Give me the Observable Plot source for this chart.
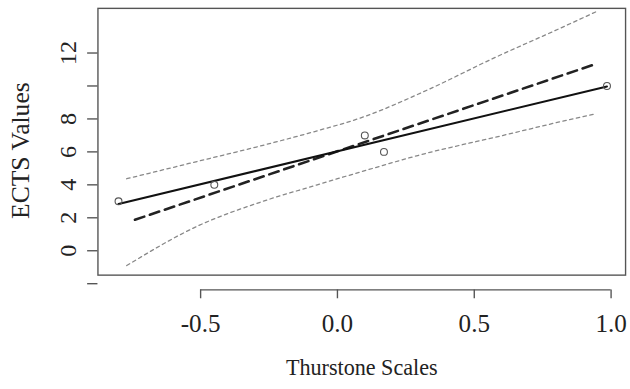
<!DOCTYPE html>
<html>
<head>
<meta charset="utf-8">
<script src="https://cdn.jsdelivr.net/npm/d3@7"></script>
<script src="https://cdn.jsdelivr.net/npm/@observablehq/plot@0.6"></script>
<style>
  html, body { margin: 0; padding: 0; background: #fff; overflow: hidden; }
  #chart svg { display: block; }
</style>
</head>
<body>
<div id="chart"></div>
<script>
// Observed points
const thurstone = [-0.80, -0.45, 0.10, 0.17, 0.985];
const ects = [3, 4, 7, 6, 10];

// Solid fitted line (endpoints)
const fitX = [-0.80, 0.985];
const fitY = [2.84, 9.97];

// Thick dashed line
const dashX = [-0.74, 0.938];
const dashY = [1.88, 11.30];

// Upper dotted band
const upperX = [-0.770, -0.512, -0.272, -0.080, 0.088, 0.328, 0.567, 0.807, 0.951];
const upperY = [4.37, 5.42, 6.40, 7.25, 8.08, 9.75, 11.66, 13.45, 14.55];

// Lower dotted band
const lowerX = [-0.770, -0.512, -0.272, -0.080, 0.088, 0.328, 0.567, 0.807, 0.945];
const lowerY = [-0.90, 1.49, 3.00, 3.97, 4.80, 5.93, 6.85, 7.80, 8.32];

// Axes
const xTicks = [-0.5, 0.0, 0.5, 1.0];
const xTickLabels = ["-0.5", "0.0", "0.5", "1.0"];
const yTicks = [-2, 0, 2, 4, 6, 8, 10, 12];
const yTickLabels = ["", "0", "2", "4", "6", "8", "", "12"];
const xTitle = "Thurstone Scales";
const yTitle = "ECTS Values";

const pts = thurstone.map((x, i) => ({x, y: ects[i]}));
const fit = fitX.map((x, i) => ({x, y: fitY[i]}));
const dash = dashX.map((x, i) => ({x, y: dashY[i]}));
const upper = upperX.map((x, i) => ({x, y: upperY[i]}));
const lower = lowerX.map((x, i) => ({x, y: lowerY[i]}));

const font = "Liberation Serif";
const ink = "#222";
const axisGray = "#555";

const chart = Plot.plot({
  width: 640,
  height: 389,
  marginLeft: 99,
  marginRight: 5,
  marginTop: 8,
  marginBottom: 110,
  style: {fontFamily: font, color: ink, background: "#fff"},
  x: {domain: [-0.8752, 1.0529], axis: null},
  y: {domain: [-1.48, 14.71], axis: null},
  marks: [
    Plot.frame({stroke: axisGray, strokeWidth: 1.4}),
    // x axis: detached line + ticks
    Plot.ruleY([-1.48], {x1: xTicks[0], x2: xTicks[xTicks.length - 1], dy: 15, stroke: axisGray, strokeWidth: 1.4}),
    Plot.axisX({ticks: xTicks, tickSize: 9, dy: 15, stroke: axisGray, strokeWidth: 1.4, fill: "none", label: null}),
    Plot.axisY({ticks: yTicks, tickSize: 10.5, stroke: axisGray, strokeWidth: 1.4, fill: "none", label: null}),
    // tick labels
    Plot.text(xTicks, {x: d => d, text: (d, i) => xTickLabels[i], frameAnchor: "bottom", dy: 40, lineAnchor: "top", textAnchor: "middle", fontSize: 25.5, fontFamily: font, fill: ink}),
    Plot.text(yTicks, {y: d => d, text: (d, i) => yTickLabels[i], frameAnchor: "left", dx: -22, rotate: -90, lineAnchor: "bottom", textAnchor: "middle", fontSize: 24.5, fontFamily: font, fill: ink}),
    // titles
    Plot.text([xTitle], {frameAnchor: "bottom", dy: 101, lineAnchor: "bottom", textAnchor: "middle", fontSize: 22.5, fontFamily: font, fill: ink}),
    Plot.text([yTitle], {frameAnchor: "left", dx: -70.5, dy: 9, rotate: -90, lineAnchor: "bottom", textAnchor: "middle", fontSize: 26, fontFamily: font, fill: ink}),
    // bands
    Plot.line(upper, {x: "x", y: "y", curve: "monotone-x", stroke: "#888", strokeWidth: 1.3, strokeDasharray: "3.5,3.5"}),
    Plot.line(lower, {x: "x", y: "y", curve: "monotone-x", stroke: "#888", strokeWidth: 1.3, strokeDasharray: "3.5,3.5"}),
    // dashed line
    Plot.line(dash, {x: "x", y: "y", stroke: "#222", strokeWidth: 2.6, strokeDasharray: "10,6"}),
    // fitted line
    Plot.line(fit, {x: "x", y: "y", stroke: "#111", strokeWidth: 2}),
    // points
    Plot.dot(pts, {x: "x", y: "y", r: 3.5, stroke: "#555", strokeWidth: 1.1, fill: "none"})
  ]
});
document.getElementById("chart").append(chart);
</script>
</body>
</html>
